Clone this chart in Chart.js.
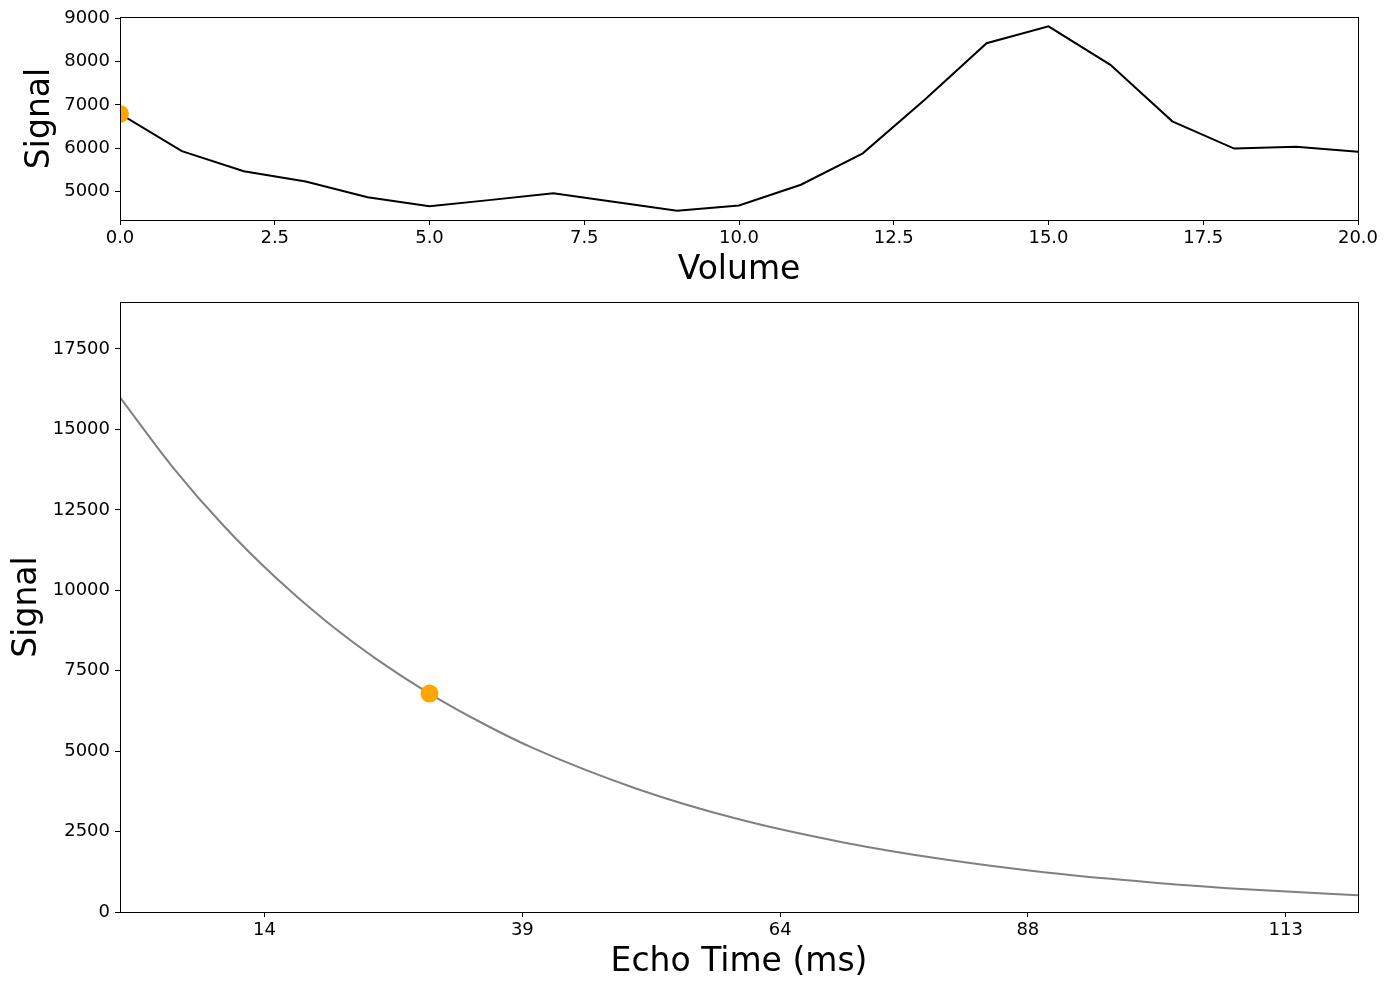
<!DOCTYPE html>
<html>
<head>
<meta charset="utf-8">
<script src="https://cdn.jsdelivr.net/npm/chart.js@4.4.0/dist/chart.umd.min.js"></script>
<style>
  html, body { margin: 0; padding: 0; background: #fff; }
  .panel { position: absolute; left: 0; }
</style>
</head>
<body>
<div class="panel" style="top:0"><canvas id="top" width="1389" height="290"></canvas></div>
<div class="panel" style="top:285px"><canvas id="bottom" width="1389" height="704"></canvas></div>
<script>
// top panel: signal over volumes
const volumes = [0, 1, 2, 3, 4, 5, 6, 7, 8, 9, 10, 11, 12, 13, 14, 15, 16, 17, 18, 19, 20];
const volumeSignal = [6790, 5930, 5465, 5230, 4865, 4660, 4805, 4960, 4755, 4555, 4675,
  5155, 5880, 7120, 8425, 8815, 7925, 6620, 5990, 6035, 5915];
const volumeTicks = [0, 2.5, 5, 7.5, 10, 12.5, 15, 17.5, 20];
const volumeSignalTicks = [5000, 6000, 7000, 8000, 9000];
const selVolume = [0];
const selVolumeSignal = [6790];

// bottom panel: decay curve over echo time
const echoTimes = [0, 5, 10, 15, 20, 25, 30, 35, 40, 50, 60, 70, 80, 90, 100, 110, 120];
const echoSignal = [16000, 13870, 12020, 10420, 9030, 7830, 6790, 5890, 5100, 3840,
  2880, 2170, 1630, 1220, 920, 690, 520];
const echoTicks = [14, 39, 64, 88, 113];
const echoSignalTicks = [0, 2500, 5000, 7500, 10000, 12500, 15000, 17500];
const selEcho = [30];
const selEchoSignal = [6790];

Chart.defaults.font.family = "'DejaVu Sans', sans-serif";
Chart.defaults.color = '#000';

const pts = (xs, ys) => xs.map((x, i) => ({x: x, y: ys[i]}));

// matplotlib style box around the plot area
const frame = {
  id: 'frame',
  afterDraw(chart) {
    const {ctx, chartArea: a} = chart;
    ctx.save();
    ctx.strokeStyle = '#000';
    ctx.lineWidth = 1;
    ctx.strokeRect(Math.round(a.left) + 0.5, Math.round(a.top) + 0.5,
      Math.round(a.right - a.left), Math.round(a.bottom - a.top));
    ctx.restore();
  }
};

function axis(opts) {
  const o = {
    type: 'linear',
    min: opts.min,
    max: opts.max,
    border: { display: false },
    grid: { drawOnChartArea: false, drawTicks: true, tickLength: 5, color: '#000', lineWidth: 1 },
    ticks: {
      font: { size: 18 },
      padding: opts.tickPad,
      maxRotation: 0,
      autoSkip: false,
      callback: opts.fmt || (v => String(v))
    },
    title: {
      display: true,
      text: opts.title,
      font: { size: 33 },
      padding: opts.titlePad
    },
    afterBuildTicks: s => { s.ticks = opts.ticks.map(v => ({value: v})); }
  };
  if (opts.width) o.afterFit = s => { s.width = opts.width; };
  if (opts.height) o.afterFit = s => { s.height = opts.height; };
  return o;
}

new Chart(document.getElementById('top'), {
  type: 'line',
  data: {
    datasets: [
      { data: pts(selVolume, selVolumeSignal), showLine: false, pointRadius: 9,
        pointBackgroundColor: '#ffa500', pointBorderWidth: 0 },
      { data: pts(volumes, volumeSignal), borderColor: '#000', borderWidth: 2,
        pointRadius: 0, tension: 0 }
    ]
  },
  options: {
    responsive: false,
    animation: false,
    layout: { padding: { top: 17, right: 31, left: 0, bottom: 0 } },
    plugins: { legend: { display: false }, tooltip: { enabled: false } },
    scales: {
      x: axis({ min: 0, max: 20, ticks: volumeTicks, title: 'Volume', height: 70,
        tickPad: 3, titlePad: { bottom: 0 }, fmt: v => v.toFixed(1) }),
      y: axis({ min: 4340, max: 9030, ticks: volumeSignalTicks, title: 'Signal', width: 120,
        tickPad: 5, titlePad: { top: 21 } })
    }
  },
  plugins: [frame]
});

new Chart(document.getElementById('bottom'), {
  type: 'line',
  data: {
    datasets: [
      { data: pts(selEcho, selEchoSignal), showLine: false, pointRadius: 9,
        pointBackgroundColor: '#ffa500', pointBorderWidth: 0 },
      { data: pts(echoTimes, echoSignal), borderColor: '#808080', borderWidth: 2,
        pointRadius: 0, cubicInterpolationMode: 'monotone' }
    ]
  },
  options: {
    responsive: false,
    animation: false,
    layout: { padding: { top: 17, right: 31, left: 0, bottom: 0 } },
    plugins: { legend: { display: false }, tooltip: { enabled: false } },
    scales: {
      x: axis({ min: 0, max: 120, ticks: echoTicks, title: 'Echo Time (ms)', height: 77,
        tickPad: 3, titlePad: { bottom: 7 } }),
      y: axis({ min: 0, max: 18960, ticks: echoSignalTicks, title: 'Signal', width: 120,
        tickPad: 5, titlePad: { top: 8 } })
    }
  },
  plugins: [frame]
});
</script>
</body>
</html>
